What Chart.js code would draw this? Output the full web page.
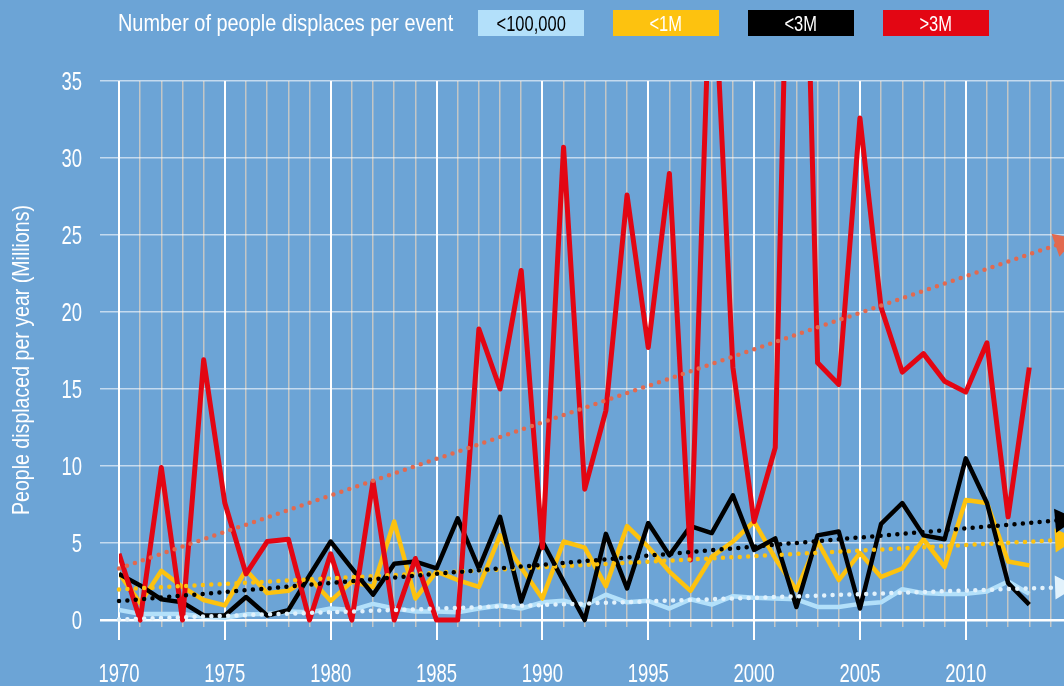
<!DOCTYPE html>
<html>
<head>
<meta charset="utf-8">
<script src="https://cdn.jsdelivr.net/npm/chart.js@4.4.1/dist/chart.umd.min.js"></script>
<style>
  body { margin: 0; background: #6ca4d6; }
  #wrap { position: relative; width: 1064px; height: 686px; }
  #legend { position: absolute; left: 0; top: 0; width: 1064px; height: 46px;
            font-family: 'Liberation Sans', Arial, sans-serif; color: #fff; }
  #legend .title { position: absolute; left: 118px; top: 9px; font-size: 24px; line-height: 28px;
                   white-space: nowrap; transform-origin: 0 50%; }
  #legend .box { position: absolute; top: 10px; width: 106px; height: 26px; line-height: 27px;
                 text-align: center; font-size: 22px; white-space: nowrap; }
  #legend .box span { display: inline-block; transform: scaleX(0.75); }
  canvas { position: absolute; left: 0; top: 0; }
</style>
</head>
<body>
<div id="wrap">
  <canvas id="chart" width="1064" height="686"></canvas>
  <div id="legend"><span class="title" id="ltitle">Number of people displaces per event</span></div>
</div>
<script>
// values, millions of people per year
const years = [1970,1971,1972,1973,1974,1975,1976,1977,1978,1979,
               1980,1981,1982,1983,1984,1985,1986,1987,1988,1989,
               1990,1991,1992,1993,1994,1995,1996,1997,1998,1999,
               2000,2001,2002,2003,2004,2005,2006,2007,2008,2009,
               2010,2011,2012,2013]

const under100k = [0.65,0.4,0.4,0.4,0.22,0.15,0.37,0.4,0.55,0.5,
                   0.75,0.65,1.05,0.75,0.55,0.55,0.5,0.75,0.95,0.75,
                   1.15,1.25,0.95,1.65,1.15,1.25,0.75,1.35,1.0,1.55,
                   1.45,1.4,1.35,0.85,0.85,1.05,1.15,2.0,1.75,1.7,
                   1.7,1.85,2.5,1.7]
const under1M = [3.05,1.1,3.2,2.15,1.3,0.95,3.25,1.75,1.9,2.75,
                 1.25,2.5,2.15,6.4,1.4,3.15,2.6,2.15,5.5,3.4,
                 1.4,5.1,4.7,2.2,6.1,4.75,3.15,1.9,4.1,5.1,
                 6.4,4.0,1.95,5.1,2.6,4.35,2.8,3.35,5.25,3.45,
                 7.8,7.6,3.8,3.55]
const under3M = [3.0,2.25,1.35,1.15,0.3,0.3,1.5,0.3,0.65,2.9,
                 5.1,3.35,1.65,3.65,3.8,3.35,6.6,3.35,6.7,1.2,
                 5.1,2.5,0,5.6,2.05,6.3,4.2,6.1,5.65,8.1,
                 4.55,5.3,0.85,5.5,5.75,0.75,6.25,7.6,5.5,5.25,
                 10.5,7.6,2.4,1.0]
const over3M = [4.3,0,9.9,0,16.9,7.6,3.0,5.1,5.25,0,
                4.3,0,9.0,0,4.0,0,0,18.9,15.0,22.7,
                4.7,30.7,8.5,13.6,27.6,17.7,29.0,3.9,45,16.4,
                6.4,11.2,70,16.7,15.3,32.6,20.3,16.1,17.3,15.5,
                14.8,18.0,6.7,16.4]

// dotted trend lines: start and arrow end
const trendYears = [1970, 2014.55]
const trendUnder100k = [0.04, 2.13]
const trendUnder1M = [1.99, 5.2]
const trendUnder3M = [1.23, 6.49]
const trendOver3M = [3.35, 24.48]

const xTickYears = [1970,1971,1972,1973,1974,1975,1976,1977,1978,1979,
                    1980,1981,1982,1983,1984,1985,1986,1987,1988,1989,
                    1990,1991,1992,1993,1994,1995,1996,1997,1998,1999,
                    2000,2001,2002,2003,2004,2005,2006,2007,2008,2009,
                    2010,2011,2012,2013,2014]
const yTicks = [0,5,10,15,20,25,30,35]
const yTitle = 'People displaced per year (Millions)'
const legendLabels = ['<100,000','<1M','<3M','>3M']
const lineColors = ['#b3e0fa','#fdc20f','#000000','#e30613']
const trendColors = ['#e2f2fc','#fdc20f','#000000','#e2694f']
const legendText = ['#000','#fff','#fff','#fff']

const FONT = "'Liberation Sans', Arial, sans-serif"
const SQUEEZE = 0.71
Chart.defaults.font.family = FONT

// html legend
const legend = document.getElementById('legend')
legendLabels.forEach(function (lab, i) {
  let b = document.createElement('div')
  b.className = 'box'
  b.style.left = (478 + i * 135) + 'px'
  b.style.background = lineColors[i]
  b.style.color = legendText[i]
  let s = document.createElement('span')
  s.textContent = lab
  b.appendChild(s)
  legend.appendChild(b)
})
const lt = document.getElementById('ltitle')
lt.style.transform = 'scaleX(' + (335 / lt.offsetWidth) + ')'

function pts(xs, ys) {
  return xs.map((x, i) => ({x: x, y: ys[i]}))
}

function arrowAngle(ctx) {
  const d = ctx.chart.data.datasets[ctx.datasetIndex].data
  const xs = ctx.chart.scales.x, ys = ctx.chart.scales.y
  const dx = xs.getPixelForValue(d[1].x) - xs.getPixelForValue(d[0].x)
  const dy = ys.getPixelForValue(d[1].y) - ys.getPixelForValue(d[0].y)
  return 90 + Math.atan2(dy, dx) * 180 / Math.PI
}

function trend(vals, i, order) {
  return {
    label: legendLabels[i] + ' trend',
    data: pts(trendYears, vals),
    borderColor: trendColors[i],
    backgroundColor: trendColors[i],
    borderWidth: 4.5,
    borderDash: [0, 8.4],
    borderCapStyle: 'round',
    pointStyle: 'triangle',
    pointRadius: c => c.dataIndex === 1 ? 14 : 0,
    pointBorderWidth: 0,
    pointRotation: arrowAngle,
    clip: false,
    order: order
  }
}

function series(vals, i, width, order) {
  return {
    label: legendLabels[i],
    data: pts(years, vals),
    borderColor: lineColors[i],
    borderWidth: width,
    borderJoinStyle: 'round',
    pointRadius: 0,
    order: order
  }
}

// narrow text: the original uses a condensed face, so squeeze a normal one
function narrowText(ctx, text, x, y, align, sq) {
  ctx.save()
  ctx.translate(x, y)
  ctx.scale(sq, 1)
  ctx.textAlign = align
  ctx.fillText(text, 0, 0)
  ctx.restore()
}

const axisLabels = {
  id: 'axisLabels',
  afterDraw(chart) {
    const ctx = chart.ctx, xs = chart.scales.x, ys = chart.scales.y
    ctx.save()
    ctx.fillStyle = '#ffffff'
    ctx.textBaseline = 'alphabetic'
    ctx.font = '26px ' + FONT
    xs.ticks.forEach(t => {
      if (t.value % 5 === 0) narrowText(ctx, String(t.value), xs.getPixelForValue(t.value), 682, 'center', SQUEEZE)
    })
    ys.ticks.forEach(t => {
      narrowText(ctx, String(t.value), 82, ys.getPixelForValue(t.value) + 9, 'right', SQUEEZE)
    })
    ctx.font = '24px ' + FONT
    const w = ctx.measureText(yTitle).width
    ctx.translate(29, 360)
    ctx.rotate(-Math.PI / 2)
    narrowText(ctx, yTitle, 0, 0, 'center', 310 / w)
    ctx.restore()
  }
}

new Chart(document.getElementById('chart'), {
  type: 'line',
  data: {
    datasets: [
      series(under100k, 0, 4.5, 8),
      series(under1M, 1, 4.5, 7),
      series(under3M, 2, 4.5, 6),
      series(over3M, 3, 5, 5),
      trend(trendUnder100k, 0, 3),
      trend(trendUnder1M, 1, 2),
      trend(trendUnder3M, 2, 1),
      trend(trendOver3M, 3, 0)
    ]
  },
  plugins: [axisLabels],
  options: {
    responsive: false,
    animation: false,
    layout: { autoPadding: false, padding: { top: 81, left: 0, right: 0, bottom: 0 } },
    plugins: { legend: { display: false }, tooltip: { enabled: false } },
    elements: { line: { tension: 0 } },
    scales: {
      x: {
        type: 'linear',
        min: 1970,
        max: 2014.64,
        afterBuildTicks: s => { s.ticks = xTickYears.map(v => ({value: v})) },
        afterFit: s => { s.height = 59; s.paddingLeft = 0; s.paddingRight = 0 },
        border: { display: false },
        grid: {
          color: c => c.tick.value % 5 === 0 ? '#ffffff' : 'rgba(210,205,195,0.85)',
          lineWidth: c => c.tick.value % 5 === 0 ? 2 : 1.5,
          tickColor: c => c.tick.value % 5 === 0 ? '#ffffff' : 'rgba(0,0,0,0)',
          tickLength: 13
        },
        ticks: { display: false }
      },
      y: {
        min: -0.45,
        max: 35,
        afterBuildTicks: s => { s.ticks = yTicks.map(v => ({value: v})) },
        afterFit: s => { s.width = 119 },
        border: { display: false },
        grid: {
          color: c => c.tick.value === 0 ? '#ffffff' : 'rgba(255,255,255,0.6)',
          lineWidth: c => c.tick.value === 0 ? 2.5 : 1.5,
          tickColor: c => c.tick.value === 0 ? '#ffffff' : 'rgba(255,255,255,0.6)',
          tickLength: 19
        },
        ticks: { display: false }
      }
    }
  }
})
</script>
</body>
</html>
